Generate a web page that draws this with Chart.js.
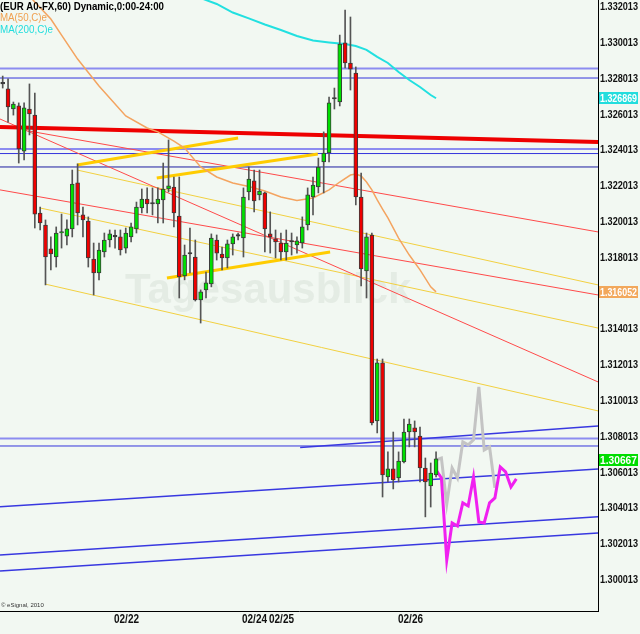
<!DOCTYPE html>
<html>
<head>
<meta charset="utf-8">
<script src="https://cdn.jsdelivr.net/npm/chart.js@4.4.1/dist/chart.umd.min.js"></script>
<style>
  html, body { margin: 0; padding: 0; background: #f2f8f2; }
  canvas { display: block; }
</style>
</head>
<body>
<canvas id="chart" width="640" height="634"></canvas>
<script>
// EUR A0-FX, 60 minute candles; bar 0 is the first visible hour
const opens = [
  1.32767, 1.32739, 1.32627, 1.32644, 1.32392, 1.32627, 1.32593, 1.32046, 1.31979, 1.31845,
  1.31800, 1.31934, 1.31917, 1.31957, 1.32214, 1.32035, 1.32001, 1.31789, 1.31711, 1.31828,
  1.31895, 1.31912, 1.31912, 1.31850, 1.31912, 1.31957, 1.32074, 1.32124, 1.32096, 1.32096,
  1.32119, 1.32180, 1.32191, 1.32029, 1.31694, 1.31817, 1.31800, 1.31560, 1.31616, 1.31649,
  1.31895, 1.31817, 1.31795, 1.31873, 1.31917, 1.31906, 1.32163, 1.32225, 1.32147, 1.32158,
  1.31929, 1.31901, 1.31878, 1.31828, 1.31884, 1.31867, 1.31878, 1.31979, 1.32135, 1.32191,
  1.32331, 1.32381, 1.32683, 1.32666, 1.32996, 1.32884, 1.32828, 1.32135, 1.31722, 1.31923,
  1.30884, 1.31208, 1.30571, 1.30616, 1.30565, 1.30655, 1.30822, 1.30845, 1.30800, 1.30621,
  1.30521, 1.30582
];
const highs = [
  1.32811, 1.32795, 1.32666, 1.32661, 1.32661, 1.32767, 1.32716, 1.32079, 1.32007, 1.31912,
  1.31968, 1.32040, 1.32007, 1.32286, 1.32320, 1.32079, 1.32024, 1.31878, 1.31878, 1.31934,
  1.31951, 1.31951, 1.31951, 1.31962, 1.31990, 1.32107, 1.32180, 1.32186, 1.32186, 1.32186,
  1.32325, 1.32454, 1.32247, 1.32247, 1.31867, 1.31962, 1.31895, 1.31616, 1.31716, 1.31929,
  1.31923, 1.31856, 1.31895, 1.31929, 1.31934, 1.32186, 1.32303, 1.32286, 1.32286, 1.32163,
  1.32052, 1.31951, 1.31934, 1.31951, 1.31934, 1.31912, 1.32024, 1.32186, 1.32247, 1.32353,
  1.32499, 1.32694, 1.32744, 1.33040, 1.33180, 1.33141, 1.32862, 1.32269, 1.31934, 1.31934,
  1.31230, 1.31230, 1.30711, 1.30822, 1.30711, 1.30895, 1.30895, 1.30884, 1.30850, 1.30677,
  1.30649, 1.30711
];
const lows = [
  1.32744, 1.32554, 1.32593, 1.32325, 1.32342, 1.32482, 1.31962, 1.31951, 1.31644, 1.31728,
  1.31744, 1.31850, 1.31867, 1.31912, 1.31979, 1.31912, 1.31744, 1.31588, 1.31672, 1.31800,
  1.31856, 1.31850, 1.31811, 1.31822, 1.31884, 1.31934, 1.32046, 1.32046, 1.32035, 1.31990,
  1.31990, 1.32163, 1.31968, 1.31571, 1.31672, 1.31711, 1.31554, 1.31431, 1.31571, 1.31633,
  1.31783, 1.31728, 1.31739, 1.31811, 1.31895, 1.31800, 1.32119, 1.32052, 1.32119, 1.31828,
  1.31822, 1.31795, 1.31783, 1.31783, 1.31811, 1.31822, 1.31850, 1.31951, 1.32035, 1.32158,
  1.32158, 1.32331, 1.32627, 1.32644, 1.32856, 1.32733, 1.32091, 1.31638, 1.31571, 1.30862,
  1.30817, 1.30459, 1.30543, 1.30504, 1.30543, 1.30649, 1.30739, 1.30739, 1.30543, 1.30348,
  1.30403, 1.30571
];
const closes = [
  1.32767, 1.32638, 1.32655, 1.32404, 1.32633, 1.32599, 1.32040, 1.31990, 1.31800, 1.31817,
  1.31934, 1.31940, 1.31957, 1.32208, 1.32046, 1.32007, 1.31795, 1.31711, 1.31839, 1.31895,
  1.31929, 1.31912, 1.31839, 1.31934, 1.31968, 1.32079, 1.32124, 1.32096, 1.32096, 1.32124,
  1.32180, 1.32197, 1.32046, 1.31688, 1.31811, 1.31817, 1.31560, 1.31605, 1.31655, 1.31906,
  1.31822, 1.31795, 1.31873, 1.31912, 1.31917, 1.32135, 1.32236, 1.32113, 1.32169, 1.31957,
  1.31912, 1.31884, 1.31828, 1.31878, 1.31884, 1.31890, 1.31968, 1.32147, 1.32202, 1.32303,
  1.32381, 1.32661, 1.32683, 1.32990, 1.32884, 1.32850, 1.32135, 1.31733, 1.31912, 1.30873,
  1.31208, 1.30582, 1.30616, 1.30554, 1.30660, 1.30822, 1.30867, 1.30822, 1.30621, 1.30543,
  1.30593, 1.30672
];

// moving averages, read at these bar numbers
const ma50Bars = [5, 6, 9, 11, 14, 18, 23, 27, 29, 32, 34, 37, 40, 43, 46, 49, 52, 55, 58, 61,
  63, 65, 66, 67, 68, 69, 70, 71, 72, 74, 76, 78, 80, 81];
const ma50 = [1.33258, 1.33225, 1.33130, 1.33040, 1.32906, 1.32756, 1.32588, 1.32521, 1.32499, 1.32448,
  1.32409, 1.32303, 1.32247, 1.32214, 1.32194, 1.32169, 1.32135, 1.32116, 1.32130, 1.32175,
  1.32219, 1.32258, 1.32264, 1.32253, 1.32219, 1.32175, 1.32119, 1.32068, 1.32018, 1.31906,
  1.31811, 1.31728, 1.31633, 1.31605];
const ma200Bars = [37, 40, 43, 46, 49, 52, 55, 58, 61, 64, 66, 68, 70, 72, 74, 76, 78, 80, 81];
const ma200 = [1.33247, 1.33214, 1.33166, 1.33133, 1.33099, 1.33068, 1.33035, 1.33010, 1.32999, 1.32990,
  1.32979, 1.32957, 1.32918, 1.32884, 1.32834, 1.32789, 1.32750, 1.32705, 1.32687];

// forecast paths, one point per bar starting at bar 81
const forecastStart = 81;
const forecastGray = [1.30666, 1.30677, 1.30420, 1.30621, 1.30565, 1.30767, 1.30750, 1.30778,
  1.31074, 1.30722, 1.30739, 1.30510];
const forecastPink = [1.30610, 1.30565, 1.30107, 1.30314, 1.30297, 1.30426, 1.30409, 1.30571,
  1.30320, 1.30314, 1.30426, 1.30454, 1.30627, 1.30599, 1.30515, 1.30560];

// axes
const X_LEFT = -0.505;
const X_RIGHT = 111.27;
const Y_MIN = 1.29822;
const Y_MAX = 1.33236;
const yTicks = [1.300013, 1.302013, 1.304013, 1.306013, 1.308013, 1.310013, 1.312013, 1.314013,
  1.316013, 1.318013, 1.320013, 1.322013, 1.324013, 1.326013, 1.328013, 1.330013, 1.332013];
const xTickBars = [20.8, 44.8, 49.8, 73.8];
const xTickLabels = ["02/22", "02/24", "02/25", "02/26"];

// drawn levels and trend lines [bar1, price1, bar2, price2]
const levelsLight = [1.32853, 1.32404, 1.30786];
const levelsDark = [1.32800, 1.32378, 1.30744];
const levelsNavy = [1.32303];
const blueRays = [
  [55.6, 1.30736, X_RIGHT, 1.30856],
  [X_LEFT, 1.30404, X_RIGHT, 1.30616],
  [X_LEFT, 1.30135, X_RIGHT, 1.30348],
  [X_LEFT, 1.30046, X_RIGHT, 1.30258]
];
const redMain = [X_LEFT, 1.32526, X_RIGHT, 1.32443];
const redRays = [
  [X_LEFT, 1.32571, X_RIGHT, 1.31102],
  [X_LEFT, 1.32175, X_RIGHT, 1.31588],
  [4.7, 1.32505, X_RIGHT, 1.31940]
];
const yellowRays = [
  [13.9, 1.32286, X_RIGHT, 1.31644],
  [6.97, 1.32074, X_RIGHT, 1.31403],
  [7.9, 1.31649, X_RIGHT, 1.30940]
];
const goldSegments = [
  [13.9, 1.32314, 44.0, 1.32465],
  [28.8, 1.32241, 58.9, 1.32376],
  [30.7, 1.31683, 61.2, 1.31828]
];

// last-value tags on the price axis
const tagValues = [1.326869, 1.316052, 1.30667];
const tagLabels = ["1.326869", "1.316052", "1.30667"];
const tagColors = ["#22dddd", "#f2a85c", "#00dd00"];

const labelFont = "'Liberation Sans', Arial, sans-serif";

function seg(s, color, width, order) {
  return {
    type: "line",
    data: [{ x: s[0], y: s[1] }, { x: s[2], y: s[3] }],
    borderColor: color,
    borderWidth: width,
    pointRadius: 0,
    order: order
  };
}
function level(v, color, width) {
  return seg([X_LEFT, v, X_RIGHT, v], color, width, 8);
}

const bodyColors = opens.map((o, i) => {
  if (Math.abs(closes[i] - o) < 0.00003) return "#333333";
  return closes[i] > o ? "#00e000" : "#f00000";
});

const datasets = [
  {
    type: "bar",
    data: opens.map((o, i) => ({ x: i, y: [Math.min(o, closes[i]), Math.max(o, closes[i])] })),
    backgroundColor: bodyColors,
    borderColor: "#3a3a3a",
    borderWidth: 1,
    borderSkipped: false,
    barThickness: 4,
    minBarLength: 1.5,
    grouped: false,
    order: 0
  },
  {
    type: "bar",
    data: opens.map((o, i) => ({ x: i, y: [lows[i], highs[i]] })),
    backgroundColor: "#555555",
    borderWidth: 0,
    barThickness: 1,
    grouped: false,
    order: 1
  },
  {
    type: "line",
    data: forecastPink.map((v, k) => ({ x: forecastStart + k, y: v })),
    borderColor: "#f020f0",
    borderWidth: 3,
    pointRadius: 0,
    order: 2
  },
  {
    type: "line",
    data: forecastGray.map((v, k) => ({ x: forecastStart + k, y: v })),
    borderColor: "#c4c4c4",
    borderWidth: 3,
    pointRadius: 0,
    order: 3
  },
  {
    type: "line",
    data: ma50.map((v, k) => ({ x: ma50Bars[k], y: v })),
    borderColor: "#f4a460",
    borderWidth: 1.5,
    pointRadius: 0,
    order: 4
  },
  {
    type: "line",
    data: ma200.map((v, k) => ({ x: ma200Bars[k], y: v })),
    borderColor: "#22e0e0",
    borderWidth: 2,
    pointRadius: 0,
    order: 4
  },
  seg(redMain, "#ee0000", 4, 6)
];
goldSegments.forEach(s => datasets.push(seg(s, "#ffcc00", 3, 6)));
redRays.forEach(s => datasets.push(seg(s, "#ff4a4a", 1, 7)));
yellowRays.forEach(s => datasets.push(seg(s, "#f2d040", 1, 7)));
blueRays.forEach(s => datasets.push(seg(s, "#3838e0", 1.5, 7)));
levelsLight.forEach(v => datasets.push(level(v, "#8c8cf0", 2)));
levelsDark.forEach(v => datasets.push(level(v, "#3434dc", 1)));
levelsNavy.forEach(v => datasets.push(level(v, "#1c1ca0", 1)));

// axis labels are drawn condensed (like the eSignal narrow font) at the scale's tick positions
const decor = {
  id: "decor",
  beforeDraw(chart) {
    const ctx = chart.ctx;
    ctx.save();
    ctx.fillStyle = "#f2f8f2";
    ctx.fillRect(0, 0, chart.width, chart.height);
    ctx.restore();
  },
  beforeDatasetsDraw(chart) {
    const ctx = chart.ctx;
    ctx.save();
    ctx.fillStyle = "rgba(150,160,150,0.14)";
    ctx.font = "bold 42px " + labelFont;
    ctx.textBaseline = "alphabetic";
    ctx.fillText("Tagesausblick", 125, 303, 290);
    ctx.restore();
  },
  afterDraw(chart) {
    const ctx = chart.ctx;
    const x = chart.scales.x;
    const y = chart.scales.y;
    ctx.save();
    ctx.textBaseline = "alphabetic";
    ctx.textAlign = "left";
    ctx.fillStyle = "#000";
    ctx.font = "bold 11px " + labelFont;
    ctx.fillText("(EUR A0-FX,60) Dynamic,0:00-24:00", 0, 10, 164);
    ctx.fillStyle = "#f0a050";
    ctx.font = "11px " + labelFont;
    ctx.fillText("MA(50,C)e", 0, 21, 47);
    ctx.fillStyle = "#22dddd";
    ctx.fillText("MA(200,C)e", 0, 33, 53);

    ctx.fillStyle = "#333";
    ctx.font = "6px " + labelFont;
    ctx.fillText("\u00a9 eSignal, 2010", 1, 607, 44);

    // price ticks
    ctx.fillStyle = "#111";
    ctx.font = "bold 11px " + labelFont;
    ctx.textBaseline = "middle";
    y.ticks.forEach(t => {
      ctx.fillText(t.value.toFixed(6), 600, Math.round(y.getPixelForValue(t.value)) + 0.5, 38);
    });
    // date ticks
    ctx.font = "bold 12px " + labelFont;
    ctx.textBaseline = "top";
    x.ticks.forEach((t, i) => {
      ctx.fillText(xTickLabels[i], Math.round(x.getPixelForValue(t.value)), 614, 25);
    });

    ctx.font = "bold 11px " + labelFont;
    ctx.textAlign = "center";
    ctx.textBaseline = "middle";
    tagValues.forEach((v, k) => {
      const py = Math.round(y.getPixelForValue(v));
      ctx.fillStyle = tagColors[k];
      ctx.fillRect(599, py - 6, 39, 12);
      ctx.fillStyle = "#ffffff";
      ctx.fillText(tagLabels[k], 618.5, py + 0.5, 37);
    });
    ctx.restore();
  }
};

new Chart(document.getElementById("chart"), {
  type: "bar",
  data: { datasets: datasets },
  options: {
    responsive: false,
    animation: false,
    events: [],
    devicePixelRatio: 1,
    layout: { padding: 0 },
    plugins: { legend: { display: false }, tooltip: { enabled: false } },
    scales: {
      x: {
        type: "linear",
        min: X_LEFT,
        max: X_RIGHT,
        offset: false,
        afterBuildTicks: s => { s.ticks = xTickBars.map(v => ({ value: v })); },
        afterFit: s => { s.height = 23; s.paddingLeft = 0; s.paddingRight = 0; },
        grid: { display: false, drawTicks: false, offset: false },
        border: { display: true, color: "#000", width: 1 },
        ticks: {
          padding: 3,
          align: "start",
          maxRotation: 0,
          autoSkip: false,
          color: "rgba(0,0,0,0)",
          font: { family: labelFont, size: 12, weight: "bold" },
          callback: (v, i) => xTickLabels[i]
        }
      },
      y: {
        type: "linear",
        position: "right",
        min: Y_MIN,
        max: Y_MAX,
        beginAtZero: false,
        afterBuildTicks: s => { s.ticks = yTicks.map(v => ({ value: v })); },
        afterFit: s => { s.width = 42; s.paddingTop = 0; s.paddingBottom = 0; },
        grid: { display: false, drawTicks: false },
        border: { display: true, color: "#000", width: 1 },
        ticks: {
          padding: 2,
          autoSkip: false,
          color: "rgba(0,0,0,0)",
          font: { family: labelFont, size: 11, weight: "bold" },
          callback: v => v.toFixed(6)
        }
      }
    }
  },
  plugins: [decor]
});
</script>
</body>
</html>
